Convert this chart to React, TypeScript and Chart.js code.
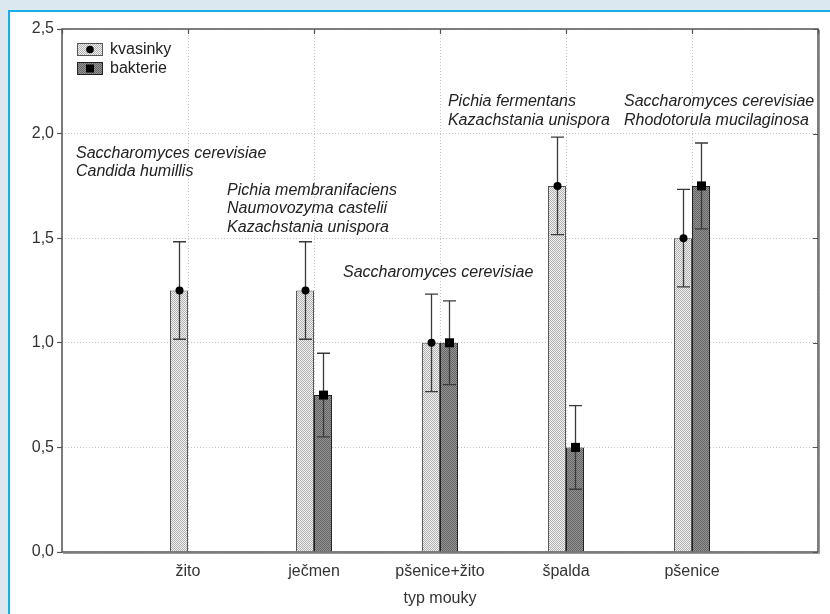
import React, { useEffect, useRef } from 'react';
import { Chart, registerables } from 'chart.js';

Chart.register(...registerables);

// ---- data ----
const categories = ['žito', 'ječmen', 'pšenice+žito', 'špalda', 'pšenice'];
const kvasinkyValues = [1.25, 1.25, 1.0, 1.75, 1.5];
const kvasinkyLow = [1.017, 1.017, 0.767, 1.517, 1.267];
const kvasinkyHigh = [1.483, 1.483, 1.233, 1.983, 1.733];
const bakterieValues = [null, 0.75, 1.0, 0.5, 1.75];
const bakterieLow = [null, 0.55, 0.8, 0.3, 1.545];
const bakterieHigh = [null, 0.95, 1.2, 0.7, 1.955];
const yTickValues = [0, 0.5, 1.0, 1.5, 2.0, 2.5];
const yTickLabels = ['0,0', '0,5', '1,0', '1,5', '2,0', '2,5'];
const seriesNames = ['kvasinky', 'bakterie'];
const xTitle = 'typ mouky';

// species annotations (anchor in data units: category index, value of first line)
const annotations = [
  { x: 0.111, y: 1.907, lines: ['Saccharomyces cerevisiae', 'Candida humillis'] },
  { x: 1.31, y: 1.73, lines: ['Pichia membranifaciens', 'Naumovozyma castelii', 'Kazachstania unispora'] },
  { x: 2.23, y: 1.334, lines: ['Saccharomyces cerevisiae'] },
  { x: 3.063, y: 2.151, lines: ['Pichia fermentans', 'Kazachstania unispora'] },
  { x: 4.46, y: 2.151, lines: ['Saccharomyces cerevisiae', 'Rhodotorula mucilaginosa'] },
];

const FONT = '"Liberation Sans", Arial, "DejaVu Sans", sans-serif';

const pad = (arr: any[]) => [null, ...arr, null];

function makePattern(a: string, b: string): CanvasPattern | string {
  const c = document.createElement('canvas');
  c.width = 2;
  c.height = 2;
  const g = c.getContext('2d');
  if (!g) return a;
  g.fillStyle = b;
  g.fillRect(0, 0, 2, 2);
  g.fillStyle = a;
  g.fillRect(0, 0, 1, 1);
  g.fillRect(1, 1, 1, 1);
  const ctx = document.createElement('canvas').getContext('2d');
  const p = ctx ? ctx.createPattern(c, 'repeat') : null;
  return p || a;
}

const errorBarPlugin = {
  id: 'errorBars',
  afterDatasetsDraw(chart: any) {
    const ctx = chart.ctx;
    const ys = chart.scales.y;
    chart.data.datasets.forEach((ds: any, di: number) => {
      const meta = chart.getDatasetMeta(di);
      meta.data.forEach((bar: any, i: number) => {
        const v = ds.data[i];
        if (v == null) return;
        const lo = ds.errLow[i];
        const hi = ds.errHigh[i];
        const x = Math.round(bar.x) + 0.5;
        const yt = ys.getPixelForValue(hi);
        const yb = ys.getPixelForValue(lo);
        const yv = ys.getPixelForValue(v);
        ctx.save();
        ctx.strokeStyle = '#3a3a3a';
        ctx.lineWidth = 1.3;
        ctx.beginPath();
        ctx.moveTo(x, yt);
        ctx.lineTo(x, yb);
        ctx.moveTo(x - 6.5, yt);
        ctx.lineTo(x + 6.5, yt);
        ctx.moveTo(x - 6.5, yb);
        ctx.lineTo(x + 6.5, yb);
        ctx.stroke();
        ctx.fillStyle = '#000';
        if (ds.marker === 'circle') {
          ctx.beginPath();
          ctx.arc(x, yv, 4, 0, Math.PI * 2);
          ctx.fill();
        } else {
          ctx.fillRect(x - 4.5, yv - 4.5, 9, 9);
        }
        ctx.restore();
      });
    });
  },
};

const decorPlugin = {
  id: 'decor',
  afterDraw(chart: any) {
    const ctx = chart.ctx;
    const { left, right, top, bottom } = chart.chartArea;
    const xs = chart.scales.x;
    const ys = chart.scales.y;

    // annotations
    ctx.save();
    ctx.font = `italic 16px ${FONT}`;
    ctx.fillStyle = '#222';
    ctx.textAlign = 'left';
    ctx.textBaseline = 'middle';
    annotations.forEach((a) => {
      const px = xs.getPixelForValue(a.x);
      const py = ys.getPixelForValue(a.y);
      a.lines.forEach((t, k) => ctx.fillText(t, px, py + k * 18.6));
    });
    ctx.restore();

    // frame
    ctx.save();
    ctx.strokeStyle = '#555';
    ctx.lineWidth = 1.5;
    ctx.strokeRect(left, top, right - left, bottom - top);
    ctx.strokeStyle = '#999';
    ctx.lineWidth = 1;
    ctx.beginPath();
    ctx.moveTo(right + 1.5, top + 1);
    ctx.lineTo(right + 1.5, bottom + 1.5);
    ctx.lineTo(left + 1, bottom + 1.5);
    ctx.stroke();
    // inner ticks on right and top
    ctx.strokeStyle = '#555';
    ctx.lineWidth = 1.2;
    ctx.beginPath();
    yTickValues.forEach((v) => {
      const py = Math.round(ys.getPixelForValue(v)) + 0.5;
      ctx.moveTo(right, py);
      ctx.lineTo(right - 5, py);
    });
    for (let i = 0; i <= categories.length + 1; i++) {
      const px = Math.round(xs.getPixelForValue(i)) + 0.5;
      ctx.moveTo(px, top);
      ctx.lineTo(px, top + 5);
    }
    ctx.stroke();
    ctx.restore();

    // legend
    ctx.save();
    const lx = left + 15;
    const rows = [top + 20.5, top + 39.5];
    chart.data.datasets.forEach((ds: any, di: number) => {
      const cy = rows[di];
      ctx.fillStyle = ds.backgroundColor;
      ctx.fillRect(lx, cy - 6.5, 26, 13);
      ctx.strokeStyle = ds.borderColor;
      ctx.lineWidth = 1;
      ctx.strokeRect(lx + 0.5, cy - 6, 25, 12);
      ctx.fillStyle = '#000';
      if (ds.marker === 'circle') {
        ctx.beginPath();
        ctx.arc(lx + 13, cy, 3.8, 0, Math.PI * 2);
        ctx.fill();
      } else {
        ctx.fillRect(lx + 9, cy - 4, 8, 8);
      }
      ctx.font = `16px ${FONT}`;
      ctx.fillStyle = '#222';
      ctx.textAlign = 'left';
      ctx.textBaseline = 'middle';
      ctx.fillText(ds.label, lx + 33, cy + 0.5);
    });
    ctx.restore();
  },
};

export default function App() {
  const ref = useRef<HTMLCanvasElement | null>(null);

  useEffect(() => {
    if (!ref.current) return;
    const kvPattern = makePattern('#b0b0b0', '#f2f2f2');
    const bkPattern = makePattern('#646464', '#959595');
    const labels = ['', ...categories, ''];
    const chart = new Chart(ref.current, {
      type: 'bar',
      data: {
        labels,
        datasets: [
          {
            label: seriesNames[0],
            data: pad(kvasinkyValues),
            errLow: pad(kvasinkyLow),
            errHigh: pad(kvasinkyHigh),
            marker: 'circle',
            backgroundColor: kvPattern,
            borderColor: '#555',
            borderWidth: 1,
            categoryPercentage: 0.286,
            barPercentage: 1,
          } as any,
          {
            label: seriesNames[1],
            data: pad(bakterieValues),
            errLow: pad(bakterieLow),
            errHigh: pad(bakterieHigh),
            marker: 'square',
            backgroundColor: bkPattern,
            borderColor: '#222',
            borderWidth: 1,
            categoryPercentage: 0.286,
            barPercentage: 1,
          } as any,
        ],
      },
      options: {
        responsive: false,
        animation: false,
        devicePixelRatio: 1,
        layout: { padding: { left: 0, top: 29, right: 12, bottom: 0 } },
        plugins: { legend: { display: false }, tooltip: { enabled: false } },
        scales: {
          x: {
            type: 'category',
            offset: false,
            grid: {
              offset: false,
              color: '#c4c4c4',
              lineWidth: 1,
              drawTicks: false,
            },
            border: { display: false, dash: [1, 2] },
            ticks: {
              autoSkip: false,
              maxRotation: 0,
              padding: 10,
              color: '#333',
              font: { family: FONT, size: 16 },
            },
            title: {
              display: true,
              text: xTitle,
              color: '#333',
              font: { family: FONT, size: 16 },
              padding: { top: 0, bottom: 6 },
            },
            afterFit: (s: any) => {
              s.height = 62;
            },
          },
          y: {
            min: 0,
            max: 2.5,
            grid: {
              color: '#c4c4c4',
              lineWidth: 1,
              drawTicks: true,
              tickLength: 5,
              tickColor: '#555',
              tickWidth: 1.2,
              tickBorderDash: [],
            },
            border: { display: false, dash: [1, 2] },
            ticks: {
              stepSize: 0.5,
              padding: 3,
              color: '#333',
              font: { family: FONT, size: 16 },
              callback: (v: any) => {
                const idx = yTickValues.findIndex((t) => Math.abs(t - Number(v)) < 1e-6);
                return idx >= 0 ? yTickLabels[idx] : '';
              },
            },
            afterFit: (s: any) => {
              s.width = 62;
            },
          },
        },
      },
      plugins: [errorBarPlugin, decorPlugin],
    });
    return () => chart.destroy();
  }, []);

  return (
    <div
      style={{
        position: 'fixed',
        left: 0,
        top: 0,
        width: 830,
        height: 614,
        background: '#dce8ef',
        overflow: 'hidden',
      }}
    >
      <div
        style={{
          position: 'absolute',
          left: 8,
          top: 10,
          width: 830,
          height: 614,
          background: '#fff',
          borderLeft: '2px solid #18ade6',
          borderTop: '2px solid #18ade6',
        }}
      />
      <canvas
        ref={ref}
        width={830}
        height={614}
        style={{ position: 'absolute', left: 0, top: 0, width: 830, height: 614 }}
      />
    </div>
  );
}
